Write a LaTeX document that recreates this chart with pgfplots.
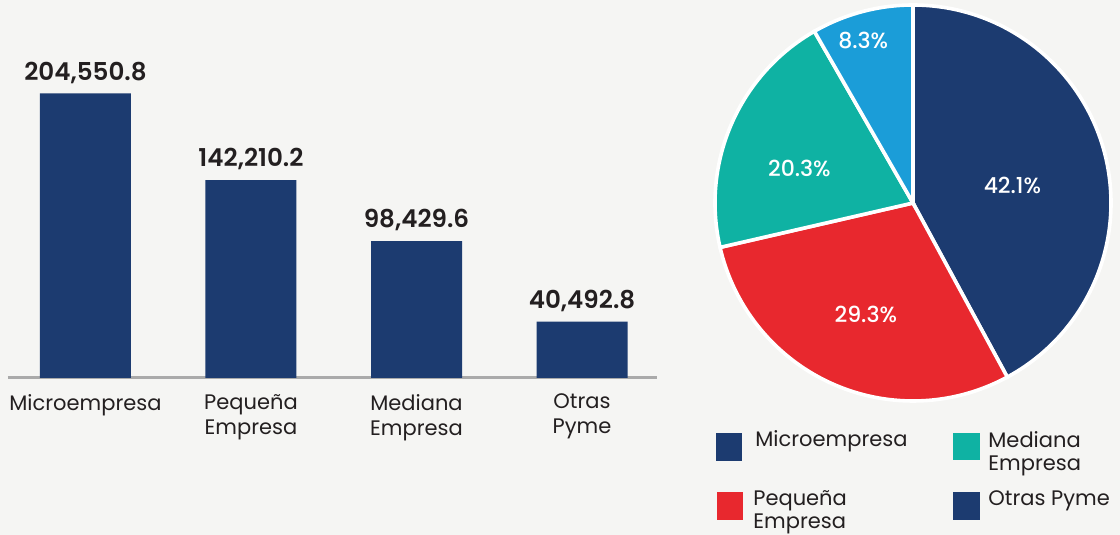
\documentclass[border=0pt]{standalone}
\usepackage{fontspec}
\setmainfont{Poppins}
\newfontfamily\semib{Poppins SemiBold}
\newfontfamily\medium{Poppins Medium}
\usepackage{pgfplots}
\pgfplotsset{compat=1.18}

\definecolor{bg}{RGB}{245,245,243}
\definecolor{navy}{RGB}{28,59,112}
\definecolor{rojo}{RGB}{232,40,46}
\definecolor{teal}{RGB}{15,178,163}
\definecolor{celeste}{RGB}{27,157,216}
\definecolor{ink}{RGB}{35,31,32}
\definecolor{axisgray}{RGB}{170,170,170}

\begin{document}
\begin{tikzpicture}
\fill[bg] (0pt,0pt) rectangle (560pt,267.5pt);

% ---- bar chart ----
\begin{axis}[
    at={(4pt,78.5pt)}, anchor=south west,
    scale only axis, width=324.5pt, height=153pt,
    xmin=-0.468, xmax=3.453, ymin=0, ymax=220000,
    axis x line*=bottom, axis y line=none,
    axis line style={draw=axisgray, line width=1.5pt},
    xtick={0,1,2,3}, major tick length=0pt,
    xticklabels={Microempresa, {Pequeña\\Empresa}, {Mediana\\Empresa}, {Otras\\Pyme}},
    xticklabel style={align=center, font=\fontsize{10.5}{12.5}\selectfont, text=ink, yshift=-4.5pt},
    ybar, bar width=45.5pt, bar shift=0pt,
    nodes near coords={\pgfmathprintnumber[fixed,fixed zerofill,precision=1,1000 sep={,},assume math mode=true]{\pgfplotspointmeta}},
    every node near coord/.append style={font=\fontsize{12.3}{14}\semib, text=ink, yshift=1.5pt},
    clip=false,
]
\addplot[fill=navy, draw=none] coordinates {
    (0,204550.8)(1,142210.2)(2,98429.6)(3,40492.8)};
\end{axis}

% ---- pie: shares in percent ----
\pgfmathsetmacro\aA{90}
\pgfmathsetmacro\aB{\aA-42.1*3.6}
\pgfmathsetmacro\aC{\aB-29.3*3.6}
\pgfmathsetmacro\aD{\aC-20.3*3.6}
\pgfmathsetmacro\aE{\aD-8.3*3.6}
\begin{axis}[
    at={(456.5pt,166pt)}, anchor=center,
    scale only axis, width=198pt, height=198pt,
    xmin=-1, xmax=1, ymin=-1, ymax=1,
    hide axis, clip=false,
]
\filldraw[fill=navy, draw=white, line width=1.8pt] (axis cs:0,0) -- (axis cs:{cos(\aA)},{sin(\aA)}) arc[start angle=\aA, end angle=\aB, radius=99pt] -- cycle;
\filldraw[fill=rojo, draw=white, line width=1.8pt] (axis cs:0,0) -- (axis cs:{cos(\aB)},{sin(\aB)}) arc[start angle=\aB, end angle=\aC, radius=99pt] -- cycle;
\filldraw[fill=teal, draw=white, line width=1.8pt] (axis cs:0,0) -- (axis cs:{cos(\aC)},{sin(\aC)}) arc[start angle=\aC, end angle=\aD, radius=99pt] -- cycle;
\filldraw[fill=celeste, draw=white, line width=1.8pt] (axis cs:0,0) -- (axis cs:{cos(\aD)},{sin(\aD)}) arc[start angle=\aD, end angle=\aE, radius=99pt] -- cycle;
\node[text=white, font=\fontsize{11}{12}\medium] at (axis cs:{0.51*cos(10)},{0.51*sin(10)}) {42.1\%};
\node[text=white, font=\fontsize{11}{12}\medium] at (axis cs:{0.61*cos(-113)},{0.61*sin(-113)}) {29.3\%};
\node[text=white, font=\fontsize{11}{12}\medium] at (axis cs:{0.60*cos(163)},{0.60*sin(163)}) {20.3\%};
\node[text=white, font=\fontsize{11}{12}\medium] at (axis cs:{0.86*cos(107)},{0.86*sin(107)}) {8.3\%};
\end{axis}

% ---- legend ----
\begin{scope}[every node/.style={inner sep=0pt, text=ink, align=left, font=\fontsize{10.5}{11.5}\selectfont}]
\fill[navy] (358pt,37pt) rectangle (371pt,51pt);
\node[anchor=west] at (377.5pt,47pt) {Microempresa};
\fill[teal] (476.5pt,37.5pt) rectangle (490pt,51pt);
\node[anchor=north west] at (494pt,52pt) {Mediana\\Empresa};
\fill[rojo] (358.5pt,7.5pt) rectangle (371.5pt,21.5pt);
\node[anchor=north west] at (376.5pt,22.5pt) {Pequeña\\Empresa};
\fill[navy] (476.5pt,7.5pt) rectangle (490pt,21.5pt);
\node[anchor=west] at (494pt,17pt) {Otras Pyme};
\end{scope}
\end{tikzpicture}
\end{document}
